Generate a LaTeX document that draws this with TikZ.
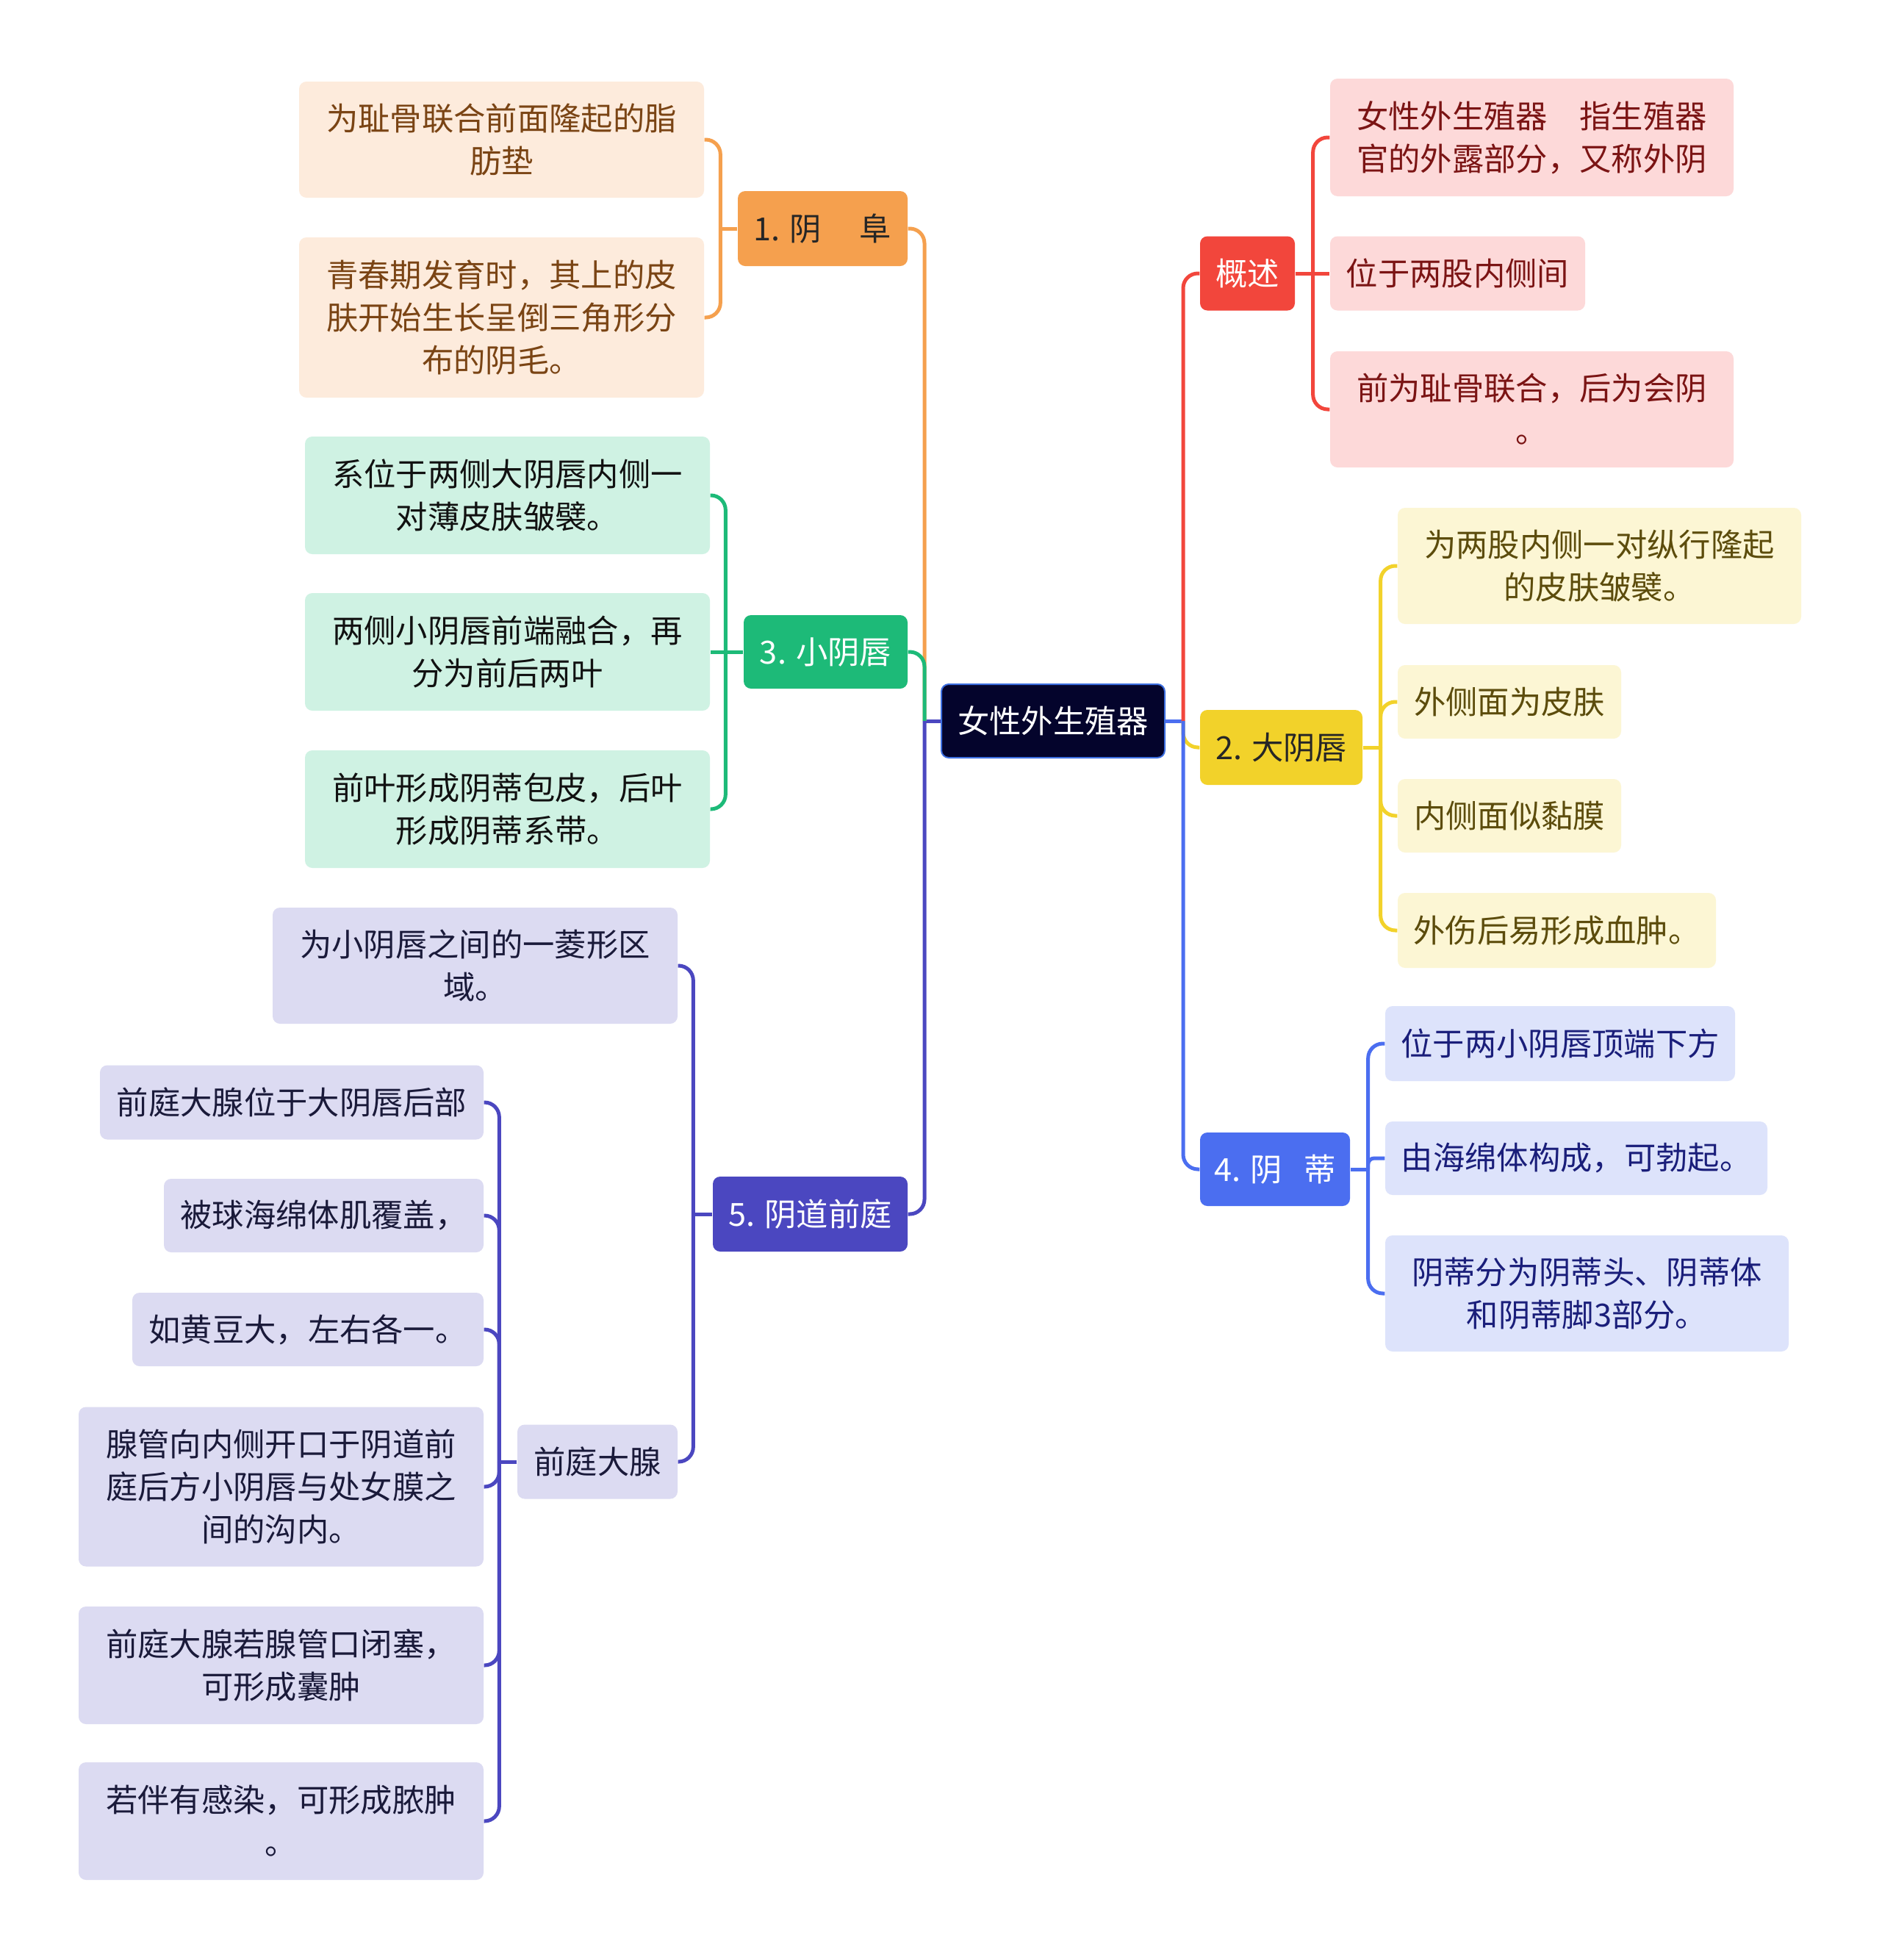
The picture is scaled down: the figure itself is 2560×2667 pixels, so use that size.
\documentclass[tikz,border=0pt]{standalone}
\usepackage{fontspec}
\setmainfont{Noto Sans CJK SC}
\definecolor{rootF}{HTML}{04042C}
\definecolor{rootB}{HTML}{3D6FE0}
\definecolor{redF}{HTML}{F2463C}
\definecolor{redC}{HTML}{FDD9D9}
\definecolor{redT}{HTML}{7B1414}
\definecolor{oraF}{HTML}{F5A04E}
\definecolor{oraC}{HTML}{FDEBDC}
\definecolor{oraT}{HTML}{7A4414}
\definecolor{yelF}{HTML}{F2D22A}
\definecolor{yelC}{HTML}{FCF6D4}
\definecolor{yelT}{HTML}{5C4C0C}
\definecolor{bluF}{HTML}{4B6EF0}
\definecolor{bluC}{HTML}{DDE3FB}
\definecolor{bluT}{HTML}{1A1E7A}
\definecolor{grnF}{HTML}{1DBA78}
\definecolor{grnC}{HTML}{CFF2E3}
\definecolor{grnT}{HTML}{111111}
\definecolor{indF}{HTML}{4B47C0}
\definecolor{indC}{HTML}{DCDBF2}
\definecolor{indT}{HTML}{1A1A3A}
\tikzset{
  base/.style={rounded corners=3pt, align=center, inner sep=0pt,
    font=\fontsize{13pt}{17.4pt}\selectfont},
  sz/.style 2 args={minimum width={#1*0.3pt}, minimum height={#2*0.3pt}},
  rootbox/.style={base, fill=rootF, draw=rootB, line width=0.6pt, text=white},
  l1red/.style={base, fill=redF, text=white},
  l1ora/.style={base, fill=oraF, text=black!85},
  l1yel/.style={base, fill=yelF, text=black!85},
  l1blu/.style={base, fill=bluF, text=white},
  l1grn/.style={base, fill=grnF, text=white},
  l1ind/.style={base, fill=indF, text=white},
  c2red/.style={base, fill=redC, text=redT},
  c2ora/.style={base, fill=oraC, text=oraT},
  c2yel/.style={base, fill=yelC, text=yelT},
  c2blu/.style={base, fill=bluC, text=bluT},
  c2grn/.style={base, fill=grnC, text=grnT},
  c2ind/.style={base, fill=indC, text=indT},
  con/.style={line width=1.5pt, rounded corners=6pt},
}
\begin{document}
\begin{tikzpicture}[x=0.3pt, y=-0.3pt]
\useasboundingbox (0,0) rectangle (2560,2667);
\fill[white] (0,0) rectangle (2560,2667);

% root
\node[rootbox, sz={304}{100}] (root) at (1433,981) {女性外生殖器};

% right first level
\node[l1red, sz={129}{101}] (gs) at (1697.5,372) {概述};
\node[l1yel, sz={221}{102}] (dyc) at (1743.5,1017) {2. 大阴唇};
\node[l1blu, sz={204}{100}] (yd) at (1735,1591) {4. 阴\kern-4.3pt　蒂};

% left first level
\node[l1ora, sz={231}{102}] (yf) at (1119.5,311) {1. 阴\kern2.5pt　阜};
\node[l1grn, sz={223}{100}] (xyc) at (1123.5,887) {3. 小阴唇};
\node[l1ind, sz={265}{102}] (ydqt) at (1102.5,1652) {5. 阴道前庭};

% 概述 children
\node[c2red, sz={549}{160}] (gs1) at (2084.5,187) {女性外生殖器　指生殖器\\官的外露部分，又称外阴};
\node[c2red, sz={347}{101}] (gs2) at (1983.5,372) {位于两股内侧间};
\node[c2red, sz={549}{158}] (gs3) at (2084.5,557) {前为耻骨联合，后为会阴\\。};

% 大阴唇 children
\node[c2yel, sz={549}{158}] (d1) at (2176.5,770) {为两股内侧一对纵行隆起\\的皮肤皱襞。};
\node[c2yel, sz={304}{100}] (d2) at (2054,955) {外侧面为皮肤};
\node[c2yel, sz={304}{100}] (d3) at (2054,1110) {内侧面似黏膜};
\node[c2yel, sz={433}{102}] (d4) at (2118.5,1266) {外伤后易形成血肿。};

% 阴蒂 children
\node[c2blu, sz={476}{102}] (y1) at (2123,1420) {位于两小阴唇顶端下方};
\node[c2blu, sz={520}{100}] (y2) at (2145,1576) {由海绵体构成，可勃起。};
\node[c2blu, sz={549}{158}] (y3) at (2159.5,1760) {阴蒂分为阴蒂头、阴蒂体\\和阴蒂脚3部分。};

% 阴阜 children
\node[c2ora, sz={551}{158}] (f1) at (682.5,190) {为耻骨联合前面隆起的脂\\肪垫};
\node[c2ora, sz={551}{218}] (f2) at (682.5,432) {青春期发育时，其上的皮\\肤开始生长呈倒三角形分\\布的阴毛。};

% 小阴唇 children
\node[c2grn, sz={551}{160}] (x1) at (690.5,674) {系位于两侧大阴唇内侧一\\对薄皮肤皱襞。};
\node[c2grn, sz={551}{160}] (x2) at (690.5,887) {两侧小阴唇前端融合，再\\分为前后两叶};
\node[c2grn, sz={551}{160}] (x3) at (690.5,1101) {前叶形成阴蒂包皮，后叶\\形成阴蒂系带。};

% 阴道前庭 children
\node[c2ind, sz={551}{158}] (q1) at (646.5,1314) {为小阴唇之间的一菱形区\\域。};
\node[c2ind, sz={218}{101}] (q2) at (813,1989) {前庭大腺};

% 前庭大腺 children
\node[c2ind, sz={522}{101}] (g1) at (397,1500) {前庭大腺位于大阴唇后部};
\node[c2ind, sz={435}{100}] (g2) at (440.5,1654) {被球海绵体肌覆盖，};
\node[c2ind, sz={478}{100}] (g3) at (419,1809) {如黄豆大，左右各一。};
\node[c2ind, sz={551}{217}] (g4) at (382.5,2023) {腺管向内侧开口于阴道前\\庭后方小阴唇与处女膜之\\间的沟内。};
\node[c2ind, sz={551}{160}] (g5) at (382.5,2266) {前庭大腺若腺管口闭塞，\\可形成囊肿};
\node[c2ind, sz={551}{160}] (g6) at (382.5,2478) {若伴有感染，可形成脓肿\\。};

% ---- connectors: root to first level ----
\draw[con, bluF] (root.east) -- ++(24,0) coordinate (rR);
\draw[con, redF] (rR) |- (gs.west);
\draw[con, yelF] (rR) |- (dyc.west);
\draw[con, bluF] (rR) |- (yd.west);
\draw[con, indF] (root.west) -- ++(-22,0) coordinate (rL);
\draw[con, oraF] (rL) |- (yf.east);
\draw[con, grnF] (rL) |- (xyc.east);
\draw[con, indF] (rL) |- (ydqt.east);

% 概述
\draw[con, redF] (gs.east) -- ++(24,0) coordinate (gsT);
\draw[con, redF] (gsT) |- (gs1.west);
\draw[con, redF] (gsT) -- (gs2.west);
\draw[con, redF] (gsT) |- (gs3.west);

% 大阴唇
\draw[con, yelF] (dyc.east) -- ++(24,0) coordinate (dT);
\draw[con, yelF] (dT) |- (d1.west);
\draw[con, yelF] (dT) |- (d2.west);
\draw[con, yelF] (dT) |- (d3.west);
\draw[con, yelF] (dT) |- (d4.west);

% 阴蒂
\draw[con, bluF] (yd.east) -- ++(24,0) coordinate (yT);
\draw[con, bluF] (yT) |- (y1.west);
\draw[con, bluF, rounded corners=2.5pt] (yT) |- (y2.west);
\draw[con, bluF] (yT) |- (y3.west);

% 阴阜
\draw[con, oraF] (yf.west) -- ++(-23,0) coordinate (fT);
\draw[con, oraF] (fT) |- (f1.east);
\draw[con, oraF] (fT) |- (f2.east);

% 小阴唇
\draw[con, grnF] (xyc.west) -- ++(-24,0) coordinate (xT);
\draw[con, grnF] (xT) |- (x1.east);
\draw[con, grnF] (xT) -- (x2.east);
\draw[con, grnF] (xT) |- (x3.east);

% 阴道前庭
\draw[con, indF] (ydqt.west) -- ++(-26,0) coordinate (qT);
\draw[con, indF] (qT) |- (q1.east);
\draw[con, indF] (qT) |- (q2.east);

% 前庭大腺
\draw[con, indF] (q2.west) -- ++(-24,0) coordinate (gT);
\draw[con, indF] (gT) |- (g1.east);
\draw[con, indF] (gT) |- (g2.east);
\draw[con, indF] (gT) |- (g3.east);
\draw[con, indF] (gT) |- (g4.east);
\draw[con, indF] (gT) |- (g5.east);
\draw[con, indF] (gT) |- (g6.east);
\end{tikzpicture}
\end{document}
